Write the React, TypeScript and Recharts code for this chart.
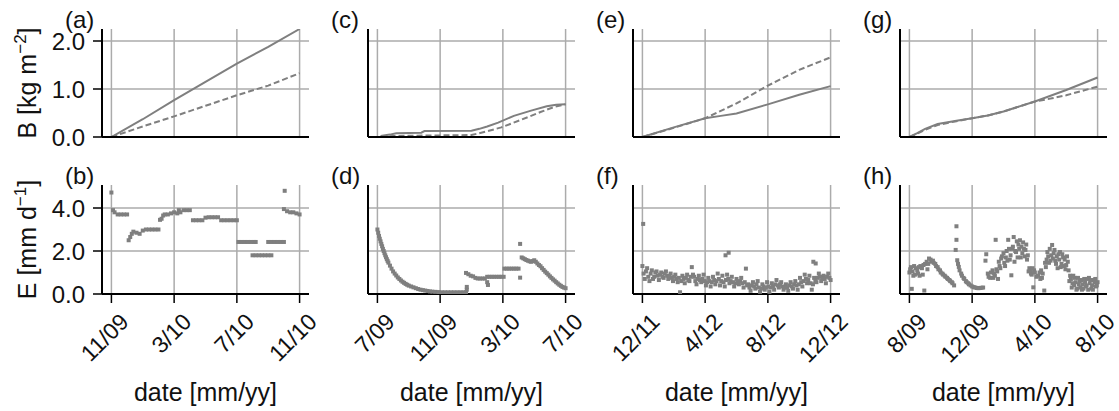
import React from 'react';
import { LineChart, Line, ScatterChart, Scatter, XAxis, YAxis, ReferenceLine } from 'recharts';

type Pt = [number, number];

// ---------- axes / labels ----------
const monthTicks = [0, 4, 8, 12];
const labelsAB = ['11/09', '3/10', '7/10', '11/10'];
const labelsCD = ['7/09', '11/09', '3/10', '7/10'];
const labelsEF = ['12/11', '4/12', '8/12', '12/12'];
const labelsGH = ['8/09', '12/09', '4/10', '8/10'];
const bTicks = [0, 1, 2];
const eTicks = [0, 2, 4];
const bDomain: [number, number] = [0, 2.25];
const eDomain: [number, number] = [0, 5.07];
const xDomain: [number, number] = [-0.6, 12.6];

// ---------- B series: [month, kg m-2] ----------
const bA_solid: Pt[] = [[0, 0], [2, 0.37], [4, 0.77], [6, 1.15], [8, 1.53], [10, 1.88], [12, 2.25]];
const bA_dashed: Pt[] = [[0, 0], [2, 0.22], [4, 0.43], [6, 0.65], [8, 0.87], [10, 1.07], [12, 1.33]];
const bC_solid: Pt[] = [[0.2, 0.02], [0.8, 0.05], [1.2, 0.08], [2.8, 0.09], [3.0, 0.125], [6.0, 0.13], [6.5, 0.17], [7.0, 0.22], [7.7, 0.3], [8.7, 0.44], [9.8, 0.55], [10.8, 0.64], [11.4, 0.67], [12, 0.68]];
const bC_dashed: Pt[] = [[0.2, 0.0], [1, 0.02], [3, 0.03], [6, 0.04], [7, 0.12], [7.9, 0.2], [9.1, 0.35], [10.4, 0.52], [11.3, 0.63], [12, 0.68]];
const bE_solid: Pt[] = [[0, 0], [2, 0.2], [4, 0.39], [5, 0.44], [6, 0.49], [8, 0.68], [10, 0.88], [12, 1.06]];
const bE_dashed: Pt[] = [[0, 0], [2, 0.19], [4, 0.39], [6, 0.7], [8, 1.07], [10, 1.4], [12, 1.66]];
const bG_solid: Pt[] = [[0, 0], [0.5, 0.08], [1, 0.17], [1.8, 0.27], [3, 0.34], [4, 0.39], [5, 0.45], [6, 0.53], [8, 0.74], [10, 0.98], [12, 1.24]];
const bG_dashed: Pt[] = [[0, 0], [0.5, 0.07], [1, 0.15], [1.8, 0.25], [3, 0.33], [4, 0.39], [5, 0.45], [6, 0.53], [8, 0.74], [9, 0.8], [10, 0.87], [12, 1.05]];

// ---------- E series: [month, mm d-1] ----------
const eB: Pt[] = [
  [0.0, 4.72], [0.1, 3.9], [0.2, 3.8], [0.4, 3.7], [0.6, 3.7], [0.8, 3.7], [1.0, 3.7],
  [1.1, 2.5], [1.2, 2.65], [1.3, 2.8], [1.4, 2.9], [1.6, 2.85], [1.8, 2.8], [2.0, 2.95],
  [2.2, 3.0], [2.4, 3.0], [2.6, 3.0], [2.8, 3.0], [3.0, 3.0], [3.1, 3.45], [3.2, 3.5],
  [3.3, 3.65], [3.4, 3.7], [3.6, 3.7], [3.8, 3.75], [4.0, 3.8], [4.2, 3.75], [4.3, 3.9],
  [4.4, 3.8], [4.6, 3.9], [4.8, 3.9], [5.0, 3.9], [5.2, 3.43], [5.4, 3.43], [5.6, 3.43],
  [5.8, 3.43], [6.0, 3.55], [6.2, 3.57], [6.4, 3.57], [6.6, 3.57], [6.8, 3.57], [7.0, 3.43],
  [7.2, 3.43], [7.4, 3.43], [7.6, 3.43], [7.8, 3.43], [8.0, 3.43], [8.1, 2.42], [8.3, 2.42],
  [8.5, 2.42], [8.7, 2.42], [8.9, 2.42], [9.1, 2.42], [9.2, 2.42], [9.0, 1.8], [9.2, 1.8],
  [9.4, 1.8], [9.6, 1.8], [9.8, 1.8], [10.0, 1.8], [10.2, 1.8], [10.0, 2.42], [10.2, 2.42],
  [10.4, 2.42], [10.6, 2.42], [10.8, 2.42], [11.0, 2.42], [11.0, 3.95], [11.05, 4.8],
  [11.2, 3.85], [11.4, 3.8], [11.6, 3.8], [11.8, 3.75], [12.0, 3.7],
];
const eD: Pt[] = [
  [0.0, 3.0], [0.05, 2.85], [0.1, 2.7], [0.15, 2.57], [0.2, 2.45], [0.25, 2.33], [0.3, 2.22],
  [0.35, 2.1], [0.4, 2.0], [0.45, 1.9], [0.5, 1.8], [0.55, 1.71], [0.6, 1.62], [0.65, 1.54],
  [0.7, 1.46], [0.8, 1.32], [0.9, 1.18], [1.0, 1.05], [1.1, 0.95], [1.2, 0.86], [1.3, 0.77],
  [1.4, 0.7], [1.5, 0.63], [1.6, 0.57], [1.7, 0.52], [1.8, 0.47], [1.9, 0.43], [2.0, 0.39],
  [2.15, 0.35], [2.3, 0.31], [2.45, 0.27], [2.6, 0.23], [2.75, 0.2], [2.9, 0.18], [3.05, 0.16],
  [3.2, 0.14], [3.35, 0.12], [3.5, 0.11], [3.7, 0.1], [3.9, 0.09], [4.1, 0.08], [4.3, 0.08],
  [4.5, 0.08], [4.7, 0.08], [4.9, 0.08], [5.1, 0.08], [5.3, 0.08], [5.5, 0.08], [5.65, 0.08],
  [5.7, 0.2], [5.7, 0.33], [5.65, 0.98], [5.8, 0.92], [5.95, 0.85], [6.1, 0.82], [6.25, 0.75],
  [6.4, 0.72], [6.55, 0.72], [6.7, 0.72], [6.85, 0.72], [7.0, 0.8], [7.0, 0.55], [7.05, 0.42],
  [7.15, 0.8], [7.3, 0.8], [7.45, 0.8], [7.6, 0.8], [7.75, 0.8], [7.9, 0.8], [8.05, 0.8],
  [8.1, 1.18], [8.25, 1.18], [8.4, 1.18], [8.55, 1.18], [8.7, 1.18], [8.85, 1.18], [9.0, 1.18],
  [9.1, 2.33], [9.1, 0.76], [9.2, 1.7], [9.3, 1.66], [9.4, 1.62], [9.5, 1.58], [9.6, 1.55],
  [9.7, 1.52], [9.8, 1.5], [9.9, 1.53], [10.0, 1.57], [10.1, 1.5], [10.2, 1.42], [10.3, 1.35],
  [10.4, 1.29], [10.5, 1.2], [10.6, 1.12], [10.7, 1.04], [10.8, 0.97], [10.9, 0.9], [11.0, 0.82],
  [11.1, 0.75], [11.2, 0.68], [11.3, 0.62], [11.4, 0.55], [11.5, 0.49], [11.6, 0.43],
  [11.7, 0.38], [11.8, 0.33], [11.9, 0.3], [12.0, 0.27],
];
const eF: Pt[] = [
  [0.05, 3.26], [5.3, 1.8], [5.5, 1.92], [10.9, 1.5], [11.05, 1.42],
  [0.0, 1.3], [0.15, 0.7], [0.3, 1.2], [0.45, 0.6], [0.6, 1.1], [0.75, 0.8], [0.9, 1.05],
  [1.05, 0.65], [1.2, 1.0], [1.35, 0.75], [1.5, 1.05], [1.65, 0.7], [1.8, 0.95], [1.95, 0.6],
  [2.1, 0.9], [2.25, 0.55], [2.4, 0.08], [2.55, 0.85], [2.7, 0.5], [2.85, 0.9], [3.0, 0.6],
  [3.15, 1.25], [3.3, 0.8], [3.45, 0.45], [3.6, 0.85], [3.75, 0.55], [3.9, 0.9], [4.05, 0.4],
  [4.2, 0.75], [4.35, 0.35], [4.5, 0.8], [4.65, 0.45], [4.8, 0.95], [4.95, 0.4], [5.1, 0.85],
  [5.25, 0.35], [5.4, 0.9], [5.55, 0.5], [5.7, 0.8], [5.85, 0.35], [6.0, 0.7], [6.15, 0.45],
  [6.3, 0.75], [6.45, 0.3], [6.6, 1.18], [6.75, 0.45], [6.9, 0.15], [7.05, 0.55], [7.2, 0.25],
  [7.35, 0.6], [7.5, 0.1], [7.65, 0.45], [7.8, 0.2], [7.95, 0.55], [8.1, 0.1], [8.25, 0.5],
  [8.4, 0.2], [8.55, 0.65], [8.7, 0.3], [8.85, 0.55], [9.0, 0.2], [9.15, 0.45], [9.3, 0.15],
  [9.45, 0.55], [9.6, 0.25], [9.75, 0.6], [9.9, 0.2], [10.05, 0.75], [10.2, 0.35], [10.35, 0.9],
  [10.5, 0.5], [10.65, 0.85], [10.8, 0.2], [10.95, 0.75], [11.1, 0.55], [11.25, 0.95],
  [11.4, 0.6], [11.55, 0.85], [11.7, 0.5], [11.85, 0.95], [12.0, 0.65],
  [0.075, 0.95], [0.225, 1.05], [0.375, 0.8], [0.525, 0.95], [0.675, 0.7], [0.825, 1.0],
  [0.975, 0.85], [1.125, 0.9], [1.275, 0.8], [1.425, 0.95], [1.575, 0.85], [1.725, 0.8],
  [1.875, 0.75], [2.025, 0.8], [2.175, 0.7], [2.325, 0.75], [2.475, 0.6], [2.625, 0.7],
  [2.775, 0.75], [2.925, 0.65], [3.075, 0.8], [3.225, 0.9], [3.375, 0.6], [3.525, 0.7],
  [3.675, 0.65], [3.825, 0.7], [3.975, 0.6], [4.125, 0.55], [4.275, 0.6], [4.425, 0.55],
  [4.575, 0.65], [4.725, 0.6], [4.875, 0.7], [5.025, 0.6], [5.175, 0.55], [5.325, 0.65],
  [5.475, 0.7], [5.625, 0.6], [5.775, 0.55], [5.925, 0.5], [6.075, 0.55], [6.225, 0.6],
  [6.375, 0.5], [6.525, 0.55], [6.675, 0.4], [6.825, 0.3], [6.975, 0.4], [7.125, 0.35],
  [7.275, 0.45], [7.425, 0.3], [7.575, 0.25], [7.725, 0.35], [7.875, 0.3], [8.025, 0.35],
  [8.175, 0.3], [8.325, 0.35], [8.475, 0.45], [8.625, 0.4], [8.775, 0.45], [8.925, 0.35],
  [9.075, 0.3], [9.225, 0.3], [9.375, 0.4], [9.525, 0.35], [9.675, 0.45], [9.825, 0.4],
  [9.975, 0.45], [10.125, 0.55], [10.275, 0.6], [10.425, 0.7], [10.575, 0.65], [10.725, 0.5],
  [10.875, 0.45], [11.025, 0.6], [11.175, 0.75], [11.325, 0.8], [11.475, 0.7], [11.625, 0.7],
  [11.775, 0.8], [11.925, 0.75],
];
const eH: Pt[] = [
  [0.0, 1.0], [0.1, 1.25], [0.15, 0.24], [0.25, 0.85], [0.4, 1.2], [0.55, 0.95], [0.7, 1.3],
  [0.85, 0.9], [0.95, 0.16], [1.0, 1.4], [1.15, 1.15], [1.25, 1.65], [1.4, 1.5], [1.55, 1.45],
  [1.7, 1.3], [1.85, 1.15], [2.0, 1.0], [2.15, 0.9], [2.3, 0.8], [2.45, 0.7], [2.6, 0.6],
  [2.75, 0.5], [2.85, 0.4], [3.0, 3.15], [3.0, 2.52], [2.95, 2.05], [3.05, 1.57], [3.15, 1.26],
  [3.3, 0.95], [3.45, 0.75], [3.6, 0.6], [3.75, 0.5], [3.9, 0.4], [4.1, 0.32], [4.3, 0.28],
  [4.5, 0.28], [4.7, 0.3], [4.85, 1.55], [4.9, 1.85], [5.0, 0.95], [5.15, 0.75], [5.3, 1.1],
  [5.45, 0.85], [5.5, 2.52], [5.6, 1.05], [5.75, 1.3], [5.9, 1.75], [6.05, 1.45], [6.2, 2.0],
  [6.3, 2.52], [6.4, 1.6], [6.5, 0.87], [6.55, 2.1], [6.65, 2.65], [6.8, 1.95], [6.95, 2.3],
  [7.1, 1.7], [7.25, 2.4], [7.4, 2.05], [7.5, 1.6], [7.65, 1.2], [7.75, 0.95], [7.9, 0.31],
  [7.95, 1.1], [8.1, 0.8], [8.3, 1.0], [8.45, 0.75], [8.6, 0.16], [8.7, 1.25], [8.85, 1.75],
  [9.0, 1.55], [9.1, 2.28], [9.2, 1.9], [9.35, 1.4], [9.5, 1.85], [9.65, 1.25], [9.8, 1.7],
  [9.95, 1.15], [10.1, 1.5], [10.25, 0.85], [10.4, 0.5], [10.55, 0.75], [10.7, 0.25],
  [10.85, 0.6], [11.0, 0.2], [11.15, 0.7], [11.3, 0.4], [11.45, 0.75], [11.6, 0.25],
  [11.75, 0.65], [11.9, 0.35], [12.0, 0.55],
  [0.05, 1.15], [0.2, 1.05], [0.3, 1.3], [0.35, 0.9], [0.5, 1.1], [0.6, 1.25], [0.65, 0.85],
  [0.8, 1.2], [0.9, 1.35], [1.1, 1.5], [1.2, 1.4], [1.35, 1.6], [1.5, 1.55], [1.65, 1.4],
  [1.8, 1.25], [1.95, 1.1], [2.1, 0.95], [2.25, 0.85], [2.4, 0.75], [2.55, 0.65], [2.7, 0.55],
  [3.1, 1.4], [3.2, 1.1], [3.35, 0.85], [3.5, 0.7], [3.65, 0.55], [3.8, 0.45], [4.0, 0.35],
  [4.2, 0.3], [4.4, 0.27], [4.6, 0.29], [5.05, 0.8], [5.2, 1.0], [5.35, 0.75], [5.4, 0.95],
  [5.55, 1.15], [5.65, 0.7], [5.7, 1.5], [5.8, 1.2], [5.85, 1.65], [6.0, 1.9], [6.1, 1.3],
  [6.15, 1.7], [6.25, 1.55], [6.35, 2.1], [6.45, 1.8], [6.6, 2.2], [6.7, 1.5], [6.75, 2.0],
  [6.85, 2.45], [6.9, 1.7], [7.0, 2.1], [7.05, 2.5], [7.15, 2.2], [7.2, 1.9], [7.3, 2.1],
  [7.35, 1.75], [7.45, 2.3], [7.55, 1.8], [7.6, 1.05], [7.7, 1.1], [7.8, 0.9], [7.85, 1.2],
  [8.0, 1.0], [8.2, 0.85], [8.35, 0.7], [8.4, 1.1], [8.5, 0.95], [8.65, 1.45], [8.75, 1.6],
  [8.8, 1.95], [8.9, 1.45], [8.95, 2.1], [9.05, 1.8], [9.15, 1.65], [9.25, 2.05], [9.3, 1.55],
  [9.4, 1.75], [9.45, 1.2], [9.55, 1.6], [9.6, 1.95], [9.7, 1.4], [9.75, 1.85], [9.85, 1.3],
  [9.9, 1.6], [10.0, 1.35], [10.05, 1.75], [10.15, 1.1], [10.2, 0.6], [10.3, 0.7], [10.35, 0.3],
  [10.45, 0.85], [10.5, 0.4], [10.6, 0.55], [10.65, 0.2], [10.75, 0.75], [10.8, 0.45],
  [10.9, 0.3], [10.95, 0.65], [11.05, 0.45], [11.1, 0.25], [11.2, 0.55], [11.25, 0.35],
  [11.35, 0.7], [11.4, 0.2], [11.5, 0.5], [11.55, 0.65], [11.65, 0.4], [11.7, 0.2],
  [11.8, 0.55], [11.85, 0.7], [11.95, 0.4],
];

// ---------- styling ----------
const FONT = '"Liberation Sans", Arial, Helvetica, sans-serif';
const TXT = '#111';
const GRID = '#ababab';
const MARK = '#7f7f7f';
const COL_LEFT = [102, 368, 633, 900];
const PLOT_W = 207;
const RIGHT = 24;

const toObj = (a: Pt[]) => a.map(([x, y]) => ({ x, y }));

function frame(col: number, row: number) {
  const yw = col === 0 ? 102 : 60;
  const top = row === 0 ? 0 : 150;
  const mTop = row === 0 ? 29 : 35;
  const plotH = row === 0 ? 108 : 109;
  const xh = row === 0 ? 16 : 117;
  return { yw, left: COL_LEFT[col] - yw, top, mTop, plotH, xh, width: yw + PLOT_W + RIGHT, height: mTop + plotH + xh };
}

const makeYLabel = (f: ReturnType<typeof frame>, letter: string, title: [string, string] | null) => () => {
  const cy = f.mTop + f.plotH / 2;
  return (
    <g>
      <text x={f.yw - 37} y={f.mTop - 1} fontSize={24} fontFamily={FONT} fill={TXT}>{`(${letter})`}</text>
      {title && (
        <text x={36} y={cy} transform={`rotate(-90 36 ${cy})`} textAnchor="middle" fontSize={25} fontFamily={FONT} fill={TXT}>
          {title[0]}
          <tspan dy={-10} fontSize={17}>{title[1]}</tspan>
          <tspan dy={10}>]</tspan>
        </text>
      )}
    </g>
  );
};

const makeXLabel = (f: ReturnType<typeof frame>) => () => (
  <text x={f.yw + PLOT_W / 2} y={f.mTop + f.plotH + 107} textAnchor="middle" fontSize={25} fontFamily={FONT} fill={TXT}>
    date [mm/yy]
  </text>
);

const makeXTick = (labels: string[]) => (props: any) => {
  const { x, y, payload } = props;
  const i = monthTicks.indexOf(payload.value);
  const ax = x + 13;
  return (
    <text x={ax} y={y} dy="0.35em" textAnchor="end" transform={`rotate(-45 ${ax} ${y})`} fontSize={23} fontFamily={FONT} fill={TXT}>
      {labels[i]}
    </text>
  );
};

const axisLine = { stroke: '#000', strokeWidth: 2 };
const tickLine = { stroke: '#000', strokeWidth: 1.5 };

const gridLines = (yTicks: number[]) => [
  ...monthTicks.map((v) => <ReferenceLine key={`gx${v}`} x={v} stroke={GRID} strokeWidth={1.5} />),
  ...yTicks.filter((v) => v > 0).map((v) => <ReferenceLine key={`gy${v}`} y={v} stroke={GRID} strokeWidth={1.5} />),
];

function BPanel({ col, letter, solid, dashed }: { col: number; letter: string; solid: Pt[]; dashed: Pt[] }) {
  const f = frame(col, 0);
  return (
    <div style={{ position: 'absolute', left: f.left, top: f.top }}>
      <LineChart width={f.width} height={f.height} margin={{ top: f.mTop, right: RIGHT, left: 0, bottom: 0 }}>
        {gridLines(bTicks)}
        <XAxis type="number" dataKey="x" domain={xDomain} ticks={monthTicks} interval={0} height={f.xh}
          tick={false} tickSize={9} axisLine={axisLine} tickLine={tickLine} allowDataOverflow />
        <YAxis type="number" domain={bDomain} ticks={bTicks} interval={0} width={f.yw} tickSize={9} tickMargin={8}
          axisLine={axisLine} tickLine={tickLine} allowDataOverflow
          tick={col === 0 ? { fontSize: 24, fontFamily: FONT, fill: TXT } : false}
          tickFormatter={(v: number) => v.toFixed(1)}
          label={makeYLabel(f, letter, col === 0 ? ['B [kg m', '\u22122'] : null)} />
        <Line data={toObj(solid)} dataKey="y" type="linear" stroke={MARK} strokeWidth={2} dot={false} isAnimationActive={false} />
        <Line data={toObj(dashed)} dataKey="y" type="linear" stroke={MARK} strokeWidth={2} strokeDasharray="6 3" dot={false} isAnimationActive={false} />
      </LineChart>
    </div>
  );
}

const square = (props: any) => (
  <rect x={props.cx - 2} y={props.cy - 2} width={4} height={4} fill={MARK} />
);

function EPanel({ col, letter, data, labels }: { col: number; letter: string; data: Pt[]; labels: string[] }) {
  const f = frame(col, 1);
  return (
    <div style={{ position: 'absolute', left: f.left, top: f.top }}>
      <ScatterChart width={f.width} height={f.height} margin={{ top: f.mTop, right: RIGHT, left: 0, bottom: 0 }}>
        {gridLines(eTicks)}
        <XAxis type="number" dataKey="x" domain={xDomain} ticks={monthTicks} interval={0} height={f.xh}
          tick={makeXTick(labels)} tickSize={9} tickMargin={14.5} axisLine={axisLine} tickLine={tickLine}
          allowDataOverflow label={makeXLabel(f)} />
        <YAxis type="number" dataKey="y" domain={eDomain} ticks={eTicks} interval={0} width={f.yw} tickSize={9} tickMargin={8}
          axisLine={axisLine} tickLine={tickLine} allowDataOverflow
          tick={col === 0 ? { fontSize: 24, fontFamily: FONT, fill: TXT } : false}
          tickFormatter={(v: number) => v.toFixed(1)}
          label={makeYLabel(f, letter, col === 0 ? ['E [mm d', '\u22121'] : null)} />
        <Scatter data={toObj(data)} dataKey="y" fill={MARK} shape={square} isAnimationActive={false} />
      </ScatterChart>
    </div>
  );
}

export default function App() {
  return (
    <div style={{ position: 'absolute', left: 0, top: 0, width: 1119, height: 411, background: '#fff', overflow: 'hidden' }}>
      <EPanel col={0} letter="b" data={eB} labels={labelsAB} />
      <EPanel col={1} letter="d" data={eD} labels={labelsCD} />
      <EPanel col={2} letter="f" data={eF} labels={labelsEF} />
      <EPanel col={3} letter="h" data={eH} labels={labelsGH} />
      <BPanel col={0} letter="a" solid={bA_solid} dashed={bA_dashed} />
      <BPanel col={1} letter="c" solid={bC_solid} dashed={bC_dashed} />
      <BPanel col={2} letter="e" solid={bE_solid} dashed={bE_dashed} />
      <BPanel col={3} letter="g" solid={bG_solid} dashed={bG_dashed} />
    </div>
  );
}
